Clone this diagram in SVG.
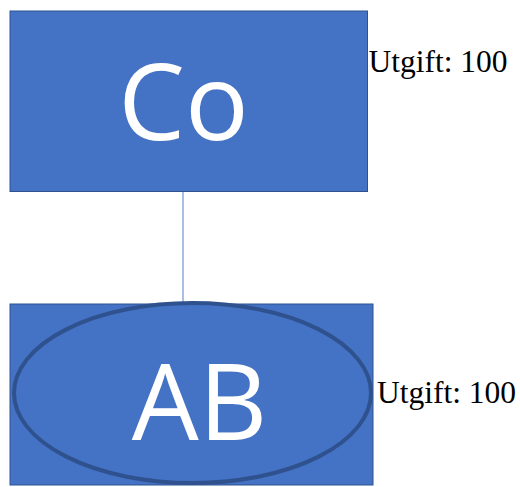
<svg xmlns="http://www.w3.org/2000/svg" width="520" height="487" viewBox="0 0 520 487">
  <style>
    .box { fill: #4472C4; stroke: #2F528F; stroke-width: 1; }
    .ring { fill: #4472C4; stroke: #2F528F; stroke-width: 4; }
    .big { fill: #FFFFFF; font-family: "Open Sans", "Liberation Sans", sans-serif; text-anchor: middle; }
    .note { fill: #000000; font-family: "Liberation Serif", "Times New Roman", serif; font-size: 31.5px; }
    .link { stroke: #8FAADC; stroke-width: 1.5; fill: none; }
  </style>
  <rect width="520" height="487" fill="#FFFFFF"/>
  <g id="connectors">
    <line class="link" x1="183" y1="191.5" x2="183" y2="303"/>
  </g>
  <g id="node-co">
    <rect class="box" x="10" y="11" width="357.5" height="180.5"/>
    <text class="big" x="183.5" y="140" font-size="106">Co</text>
  </g>
  <g id="node-ab">
    <rect class="box" x="10" y="304" width="363" height="181"/>
    <ellipse class="ring" cx="192.5" cy="393" rx="178.5" ry="90"/>
    <text class="big" x="199.5" y="440" font-size="106">AB</text>
  </g>
  <g id="labels">
    <text class="note" x="368.5" y="72">Utgift: 100</text>
    <text class="note" x="377" y="403">Utgift: 100</text>
  </g>
</svg>
